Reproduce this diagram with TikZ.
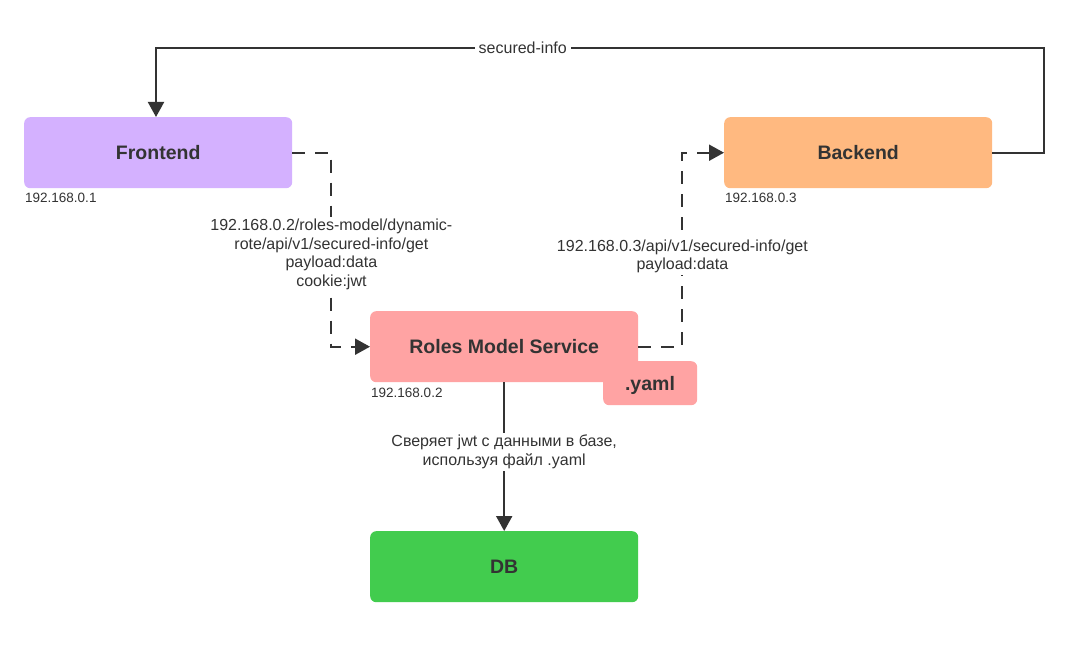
\documentclass[tikz,border=0pt]{standalone}
\usepackage{fontspec}
\setmainfont{Liberation Sans}
\usetikzlibrary{arrows.meta}
\definecolor{txt}{RGB}{51,51,51}
\definecolor{fecol}{RGB}{212,177,255}
\definecolor{becol}{RGB}{255,185,128}
\definecolor{rmcol}{RGB}{255,163,163}
\definecolor{dbcol}{RGB}{66,204,78}
\begin{document}
\begin{tikzpicture}[x=1pt,y=-1pt,
  box/.style={rounded corners=6pt, minimum width=268pt, minimum height=71pt, inner sep=0pt,
    font=\fontsize{19.5}{23}\selectfont\bfseries, text=txt, anchor=north west},
  ip/.style={font=\fontsize{13.5}{16}\selectfont, text=txt, inner sep=0pt, anchor=base west},
  lbl/.style={font=\fontsize{16}{18.5}\selectfont, text=txt, fill=white, inner xsep=4pt, inner ysep=2pt, align=center},
  conn/.style={draw=txt, line width=2pt, -{Triangle[length=15pt,width=16pt]}},
  dashline/.style={conn, dash pattern=on 13pt off 10pt}]
\useasboundingbox[fill=white] (0,0) rectangle (1073,652);
% nodes
\node[box, fill=fecol] (fe) at (24,117) {Frontend};
\node[box, fill=becol] (be) at (724,117) {Backend};
\node[rounded corners=6pt, fill=rmcol, minimum width=94pt, minimum height=44pt, inner sep=0pt,
  anchor=north west] (yaml) at (603,361) {};
\node[box, fill=rmcol] (rms) at (370,311) {Roles Model Service};
\node[font=\fontsize{19.5}{23}\selectfont\bfseries, text=txt, inner sep=0pt] (yamltxt) at (650,385) {.yaml};
\node[box, fill=dbcol] (db) at (370,531) {DB};
% ip labels
\node[ip] (ipfe) at (25,203) {192.168.0.1};
\node[ip] (ipbe) at (725,203) {192.168.0.3};
\node[ip] (iprms) at (371,397) {192.168.0.2};
% connectors
\draw[dashline] (fe.east) -- ++(39,0) |- node[lbl, pos=0.262]
  {192.168.0.2/roles-model/dynamic-\\rote/api/v1/secured-info/get\\payload:data\\cookie:jwt} (rms.west);
\draw[dashline] (rms.east) -- ++(44,0) |- node[lbl, pos=0.233]
  {192.168.0.3/api/v1/secured-info/get\\payload:data} (be.west);
\coordinate (c1) at (1044,48);
\coordinate (c2) at (156,48);
\draw[conn] (be.east) -| (c1) -- node[lbl, pos=0.587] {secured-info} (c2) -- (c2 |- fe.north);
\draw[conn] (rms.south) -- node[lbl, pos=0.467]
  {Сверяет jwt с данными в базе,\\используя файл .yaml} (db.north);
\end{tikzpicture}
\end{document}
